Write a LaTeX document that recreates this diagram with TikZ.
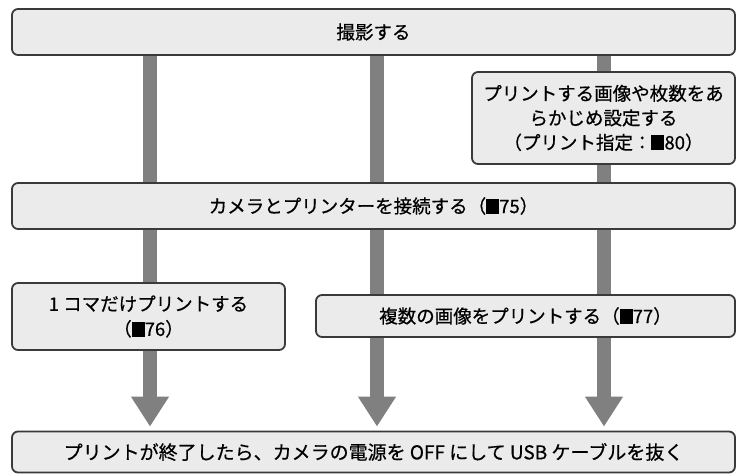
\documentclass[tikz,border=0pt]{standalone}
\usepackage{fontspec}
\setmainfont{Noto Sans CJK JP}[FakeBold=0.6]
\usetikzlibrary{arrows.meta}
\definecolor{boxfill}{HTML}{EBEBEB}
\definecolor{boxline}{HTML}{3A3A3A}
\definecolor{bargray}{HTML}{808080}
\newcommand\refmark{\textcolor{black}{\rule[-1pt]{13pt}{15pt}}}
\pgfdeclarelayer{bg}
\pgfsetlayers{bg,main}
\tikzset{
  box/.style={draw=boxline, fill=boxfill, line width=1.8pt, rounded corners=6pt,
    align=center, inner sep=0pt, text=black, font=\fontsize{18.5}{25}\selectfont},
  bar/.style={draw=bargray, line width=14pt},
  arr/.style={bar, -{Triangle[width=36pt,length=30pt]}, shorten >=4pt}
}
\begin{document}
\begin{tikzpicture}[x=1pt,y=-1pt]
\useasboundingbox (0,0) rectangle (737,474);
\node[box, minimum width=723pt, minimum height=46pt] (top) at (373.5,32) {撮影する};
\node[box, minimum width=263pt, minimum height=92pt, font=\fontsize{18.5}{24.5}\selectfont] (pre) at (603.5,118) {プリントする画像や枚数をあ\\らかじめ設定する\\（プリント指定：\refmark 80）};
\node[box, minimum width=723pt, minimum height=46pt] (conn) at (373.5,206) {カメラとプリンターを接続する（\refmark 75）};
\node[box, minimum width=273pt, minimum height=67pt] (one) at (148.5,316.5) {1 コマだけプリントする\\（\refmark 76）};
\node[box, minimum width=419pt, minimum height=42pt] (multi) at (525.5,316) {複数の画像をプリントする（\refmark 77）};
\node[box, minimum width=723pt, minimum height=41pt, font=\fontsize{19}{24}\selectfont] (bottom) at (373.5,452) {プリントが終了したら、カメラの電源を OFF にして USB ケーブルを抜く};
\coordinate (c1) at (150,0);
\coordinate (c2) at (377,0);
\coordinate (c3) at (604,0);
\begin{pgfonlayer}{bg}
\draw[bar] (top.south -| c1) -- (conn.north -| c1);
\draw[bar] (top.south -| c2) -- (conn.north -| c2);
\draw[bar] (top.south -| c3) -- (pre.north -| c3);
\draw[bar] (pre.south -| c3) -- (conn.north -| c3);
\draw[bar] (conn.south -| c1) -- (one.north -| c1);
\draw[bar] (conn.south -| c2) -- (multi.north -| c2);
\draw[bar] (conn.south -| c3) -- (multi.north -| c3);
\draw[arr] (one.south -| c1) -- (bottom.north -| c1);
\draw[arr] (multi.south -| c2) -- (bottom.north -| c2);
\draw[arr] (multi.south -| c3) -- (bottom.north -| c3);
\end{pgfonlayer}
\end{tikzpicture}
\end{document}
